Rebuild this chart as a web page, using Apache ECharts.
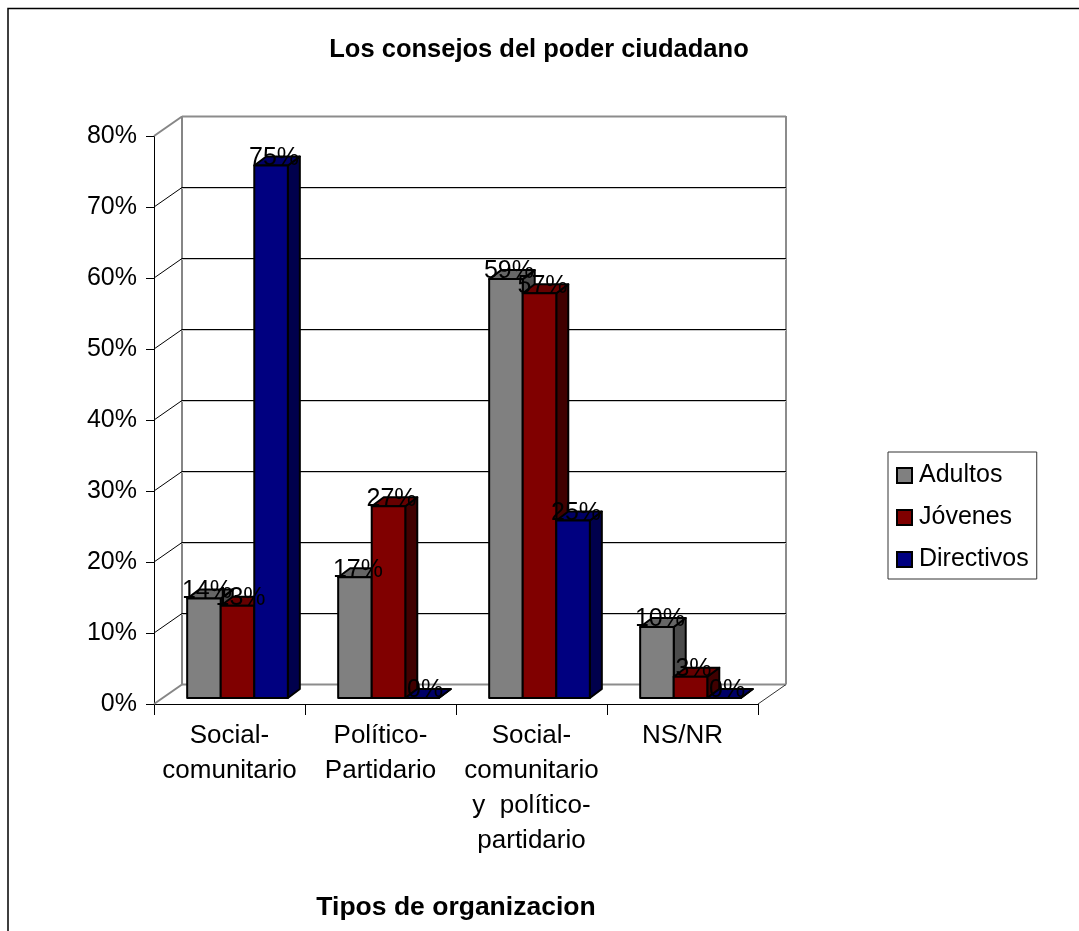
<!DOCTYPE html>
<html>
<head>
<meta charset="utf-8">
<style>
  html, body { margin: 0; padding: 0; background: #fff; }
  #chart { width: 1079px; height: 931px; }
</style>
<script src="https://cdn.jsdelivr.net/npm/echarts@6/dist/echarts.min.js"></script>
</head>
<body>
<div id="chart"></div>
<script>
var categories = ['Social-\ncomunitario', 'Político-\nPartidario', 'Social-\ncomunitario\ny  político-\npartidario', 'NS/NR']
var adultos = [14, 17, 59, 10]
var jovenes = [13, 27, 57, 3]
var directivos = [75, 0, 25, 0]
var yTicks = [0, 10, 20, 30, 40, 50, 60, 70, 80]

var font = '"Liberation Sans", Arial, sans-serif'

// walls depth in px, bars sit a little behind the front plane
var wallDx = 28, wallDy = -20
var barDx = 8, barDy = -6
var sideDx = 12, sideDy = -9

var palette = [
  { front: '#808080', top: '#666666', side: '#4c4c4c' },
  { front: '#800000', top: '#660000', side: '#400000' },
  { front: '#000080', top: '#000066', side: '#00004c' }
]

function barPos(api, seriesIdx) {
  var cat = api.value(0)
  var val = api.value(1)
  var w = api.size([1, 0])[0] / 4.5
  var base = api.coord([cat, 0])
  var top = api.coord([cat, val])
  var x0 = base[0] + barDx + (seriesIdx - 1.5) * w
  return { x0: x0, x1: x0 + w, yb: base[1] + barDy, yt: top[1] + barDy }
}

function renderBar(seriesIdx) {
  return function (params, api) {
    var p = barPos(api, seriesIdx)
    var c = palette[seriesIdx]
    var edge = { stroke: '#000', lineWidth: 2, lineJoin: 'round' }
    var style = function (fill) { return Object.assign({ fill: fill }, edge) }
    return {
      type: 'group',
      children: [
        { type: 'polygon', shape: { points: [[p.x1, p.yt], [p.x1 + sideDx, p.yt + sideDy], [p.x1 + sideDx, p.yb + sideDy], [p.x1, p.yb]] }, style: style(c.side) },
        { type: 'polygon', shape: { points: [[p.x0, p.yt], [p.x0 + sideDx, p.yt + sideDy], [p.x1 + sideDx, p.yt + sideDy], [p.x1, p.yt]] }, style: style(c.top) },
        { type: 'rect', shape: { x: p.x0, y: p.yt, width: p.x1 - p.x0, height: p.yb - p.yt }, style: style(c.front) }
      ]
    }
  }
}

function renderLabel(seriesIdx) {
  return function (params, api) {
    var p = barPos(api, seriesIdx)
    return {
      type: 'text',
      x: (p.x0 + p.x1) / 2 + 3,
      y: p.yt + 5,
      style: { text: api.value(1) + '%', fill: '#000', font: '25px ' + font, align: 'center', verticalAlign: 'bottom' }
    }
  }
}

function renderGrid(params, api) {
  var rect = params.coordSys
  var y = api.coord([0, api.value(0)])[1]
  var x0 = rect.x, x1 = rect.x + rect.width
  var isFloor = api.value(0) === 0
  var isTop = api.value(0) === yTicks[yTicks.length - 1]
  var heavy = isFloor || isTop
  var wallY = Math.round(y + wallDy) + 0.5
  var children = [
    { type: 'line', shape: { x1: x0, y1: y, x2: x0 + wallDx, y2: wallY }, style: { stroke: heavy ? '#868686' : '#000', lineWidth: heavy ? 2 : 1 } }
  ]
  if (!heavy) {
    // light shadow right under each back gridline
    children.push({ type: 'line', shape: { x1: x0 + wallDx, y1: wallY + 1, x2: x1 + wallDx, y2: wallY + 1 }, style: { stroke: '#c8c8c8', lineWidth: 1 } })
  }
  children.push({ type: 'line', shape: { x1: x0 + wallDx, y1: wallY, x2: x1 + wallDx, y2: wallY }, style: { stroke: heavy ? '#8c8c8c' : '#000', lineWidth: heavy ? 2 : 1 } })
  if (isFloor) {
    children.push({ type: 'line', shape: { x1: x1, y1: y, x2: x1 + wallDx, y2: wallY }, style: { stroke: '#333', lineWidth: 1 } })
    children.push({ type: 'line', shape: { x1: x0 + wallDx, y1: wallY, x2: x0 + wallDx, y2: rect.y + wallDy }, style: { stroke: '#868686', lineWidth: 2 } })
    children.push({ type: 'line', shape: { x1: x1 + wallDx, y1: wallY, x2: x1 + wallDx, y2: rect.y + wallDy }, style: { stroke: '#8c8c8c', lineWidth: 2 } })
  }
  return { type: 'group', children: children }
}

function pairs(values) {
  return values.map(function (v, i) { return [i, v] })
}

var barNames = ['Adultos', 'Jóvenes', 'Directivos']
var barData = [adultos, jovenes, directivos]

var series = [{
  name: 'grid',
  type: 'custom',
  renderItem: renderGrid,
  data: yTicks.map(function (v) { return [v] }),
  encode: { y: 0 },
  clip: false,
  silent: true,
  z: 1
}]
barData.forEach(function (values, i) {
  series.push({
    name: barNames[i],
    type: 'custom',
    renderItem: renderBar(i),
    data: pairs(values),
    itemStyle: { color: palette[i].front, borderColor: '#000', borderWidth: 2 },
    clip: false,
    z: 2
  })
})
barData.forEach(function (values, i) {
  series.push({
    name: barNames[i] + ' labels',
    type: 'custom',
    renderItem: renderLabel(i),
    data: pairs(values),
    clip: false,
    silent: true,
    z: 5
  })
})

var chart = echarts.init(document.getElementById('chart'))
chart.setOption({
  animation: false,
  backgroundColor: '#fff',
  title: {
    text: 'Los consejos del poder ciudadano',
    left: 534,
    top: 32,
    textAlign: 'center',
    textStyle: { fontFamily: font, fontWeight: 'bold', fontSize: 25.5, color: '#000' }
  },
  legend: {
    data: barNames,
    orient: 'vertical',
    left: 888,
    top: 452,
    padding: [11, 8, 7, 8],
    backgroundColor: '#fff',
    borderColor: '#333',
    borderWidth: 1,
    itemWidth: 15,
    itemHeight: 15,
    itemGap: 17,
    icon: 'rect',
    selectedMode: false,
    textStyle: { fontFamily: font, fontSize: 25, color: '#000', padding: [0, 0, 0, 2] }
  },
  grid: { left: 154, right: 321, top: 136, bottom: 227 },
  xAxis: {
    type: 'category',
    data: categories,
    boundaryGap: true,
    name: 'Tipos de organizacion',
    nameLocation: 'center',
    nameGap: 190,
    nameTextStyle: { fontFamily: font, fontWeight: 'bold', fontSize: 26.5, color: '#000' },
    axisLine: { show: true, lineStyle: { color: '#000', width: 1 } },
    axisTick: { show: true, alignWithLabel: false, length: 11, lineStyle: { color: '#000' } },
    axisLabel: { interval: 0, margin: 14, fontFamily: font, fontSize: 26, lineHeight: 35, color: '#000' },
    splitLine: { show: false }
  },
  yAxis: {
    type: 'value',
    min: 0,
    max: 80,
    interval: 10,
    axisLine: { show: true, lineStyle: { color: '#000', width: 1 } },
    axisTick: { show: true, length: 8, lineStyle: { color: '#000' } },
    axisLabel: { formatter: '{value}%', margin: 17, padding: [5, 0, 0, 0], fontFamily: font, fontSize: 25, color: '#000' },
    splitLine: { show: false }
  },
  graphic: [{
    type: 'polyline',
    shape: { points: [[8, 940], [8, 8.5], [1090, 8.5]] },
    style: { fill: null, stroke: '#000', lineWidth: 1.5 },
    silent: true
  }],
  series: series
})
</script>
</body>
</html>
